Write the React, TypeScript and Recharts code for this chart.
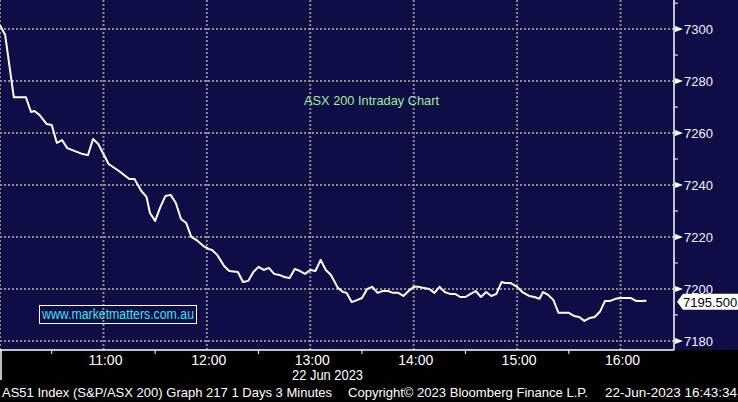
import { LineChart, Line, XAxis, YAxis, CartesianGrid, ReferenceLine } from 'recharts'

// minutes since midnight, 3 min bars (10:00 = 600)
const times = [
  600, 603, 608, 615, 618, 620, 623, 627, 630, 633,
  636, 639, 648, 651, 654, 657, 663, 669, 675, 678,
  682, 685, 687, 690, 693, 696, 699, 702, 705, 708,
  711, 714, 718, 721, 723, 726, 730, 733, 738, 741,
  744, 747, 750, 753, 756, 759, 762, 765, 768, 771,
  774, 777, 780, 783, 786, 789, 792, 796, 799, 801,
  804, 806, 810, 813, 816, 819, 822, 825, 828, 831,
  834, 837, 840, 843, 846, 849, 852, 855, 858, 861,
  864, 867, 870, 873, 876, 879, 882, 885, 888, 891,
  893, 896, 900, 903, 907, 910, 913, 915, 918, 921,
  924, 927, 930, 933, 936, 939, 942, 945, 948, 951,
  954, 957, 960, 963, 966, 969, 972, 975,
]

const prices = [
  7301.5, 7297.7, 7273.8, 7273.8, 7268.1, 7268.5, 7266.9, 7263.5, 7263.1, 7256.2,
  7257.3, 7254.2, 7251.9, 7251.5, 7257.7, 7255.8, 7248.1, 7245.4, 7242.3, 7242.3,
  7237.7, 7235.4, 7229.2, 7226.2, 7231.5, 7235.8, 7236.2, 7233.1, 7226.9, 7225.4,
  7220.0, 7218.8, 7216.5, 7215.4, 7215.0, 7213.1, 7208.8, 7206.9, 7206.5, 7202.7,
  7203.1, 7206.5, 7208.5, 7207.3, 7208.1, 7205.8, 7205.4, 7204.6, 7204.2, 7207.7,
  7206.9, 7205.8, 7207.3, 7206.9, 7211.2, 7207.3, 7205.4, 7200.4, 7198.8, 7198.5,
  7195.0, 7195.4, 7196.5, 7200.0, 7200.8, 7198.5, 7199.2, 7199.2, 7198.5, 7198.5,
  7197.3, 7199.2, 7200.8, 7200.8, 7200.4, 7200.0, 7198.5, 7200.8, 7198.8, 7198.1,
  7198.1, 7196.9, 7196.9, 7198.1, 7199.2, 7196.9, 7198.8, 7197.3, 7198.1, 7202.7,
  7202.3, 7202.3, 7200.8, 7198.8, 7197.3, 7196.9, 7196.2, 7198.8, 7197.7, 7195.8,
  7190.8, 7190.8, 7190.8, 7189.6, 7189.2, 7187.7, 7188.8, 7189.2, 7191.2, 7195.4,
  7195.4, 7196.2, 7196.5, 7196.5, 7196.5, 7195.4, 7195.4, 7195.5,
]

const yMajor = [7180, 7200, 7220, 7240, 7260, 7280, 7300]
const yTicks = [7180, 7190, 7200, 7210, 7220, 7230, 7240, 7250, 7260, 7270, 7280, 7290, 7300, 7310]
const xGrid = [600, 660, 720, 780, 840, 900, 960]
const xTicks = [630, 660, 690, 720, 750, 780, 810, 840, 870, 900, 930, 960]

const data = times.map((t, i) => ({ t, v: prices[i] }))
const last = prices[prices.length - 1]

const NAVY = '#0e0d46'
const FONT = '"Liberation Sans", Arial, sans-serif'

const fmtTime = (m: number) => `${Math.floor(m / 60)}:${String(m % 60).padStart(2, '0')}`

function YTick(props: any) {
  const { x, y, payload } = props
  if (payload.value % 20 !== 0) {
    return <line x1={x} x2={x + 4} y1={y} y2={y} stroke="#fff" strokeWidth={1} />
  }
  return (
    <g>
      <polygon points={`${x + 1},${y - 3} ${x + 9},${y} ${x + 1},${y + 3}`} fill="#fff" />
      <text x={x + 10} y={y + 5} fill="#f2f2ff" fontSize={13} fontFamily={FONT}>
        {payload.value}
      </text>
    </g>
  )
}

function XTick(props: any) {
  const { x, y, payload } = props
  if (payload.value % 60 !== 0) {
    return <line x1={x} x2={x} y1={y} y2={y + 4} stroke="#fff" strokeWidth={1} />
  }
  return (
    <text x={x + 2} y={y + 15} textAnchor="middle" fill="#fff" fontSize={14} fontFamily={FONT}>
      {fmtTime(payload.value)}
    </text>
  )
}

function LastTag(props: any) {
  const { viewBox } = props
  const left = viewBox.x + viewBox.width + 3
  const cy = viewBox.y + 1
  return (
    <g>
      <polygon
        points={`${left},${cy} ${left + 6},${cy - 8} 738,${cy - 8} 738,${cy + 8} ${left + 6},${cy + 8}`}
        fill="#fff"
      />
      <text x={left + 6} y={cy + 5} fill="#000" fontSize={13} fontFamily={FONT}>
        {last.toFixed(3)}
      </text>
    </g>
  )
}

export default function App() {
  return (
    <div style={{ position: 'absolute', left: 0, top: 0, width: 738, height: 402, background: '#000', overflow: 'hidden' }}>
      <div style={{ position: 'absolute', left: 0, top: 0, width: 738, height: 350, background: NAVY }} />
      <div style={{ position: 'absolute', left: 0, top: 0 }}>
        <LineChart width={738} height={402} data={data} margin={{ top: 0, right: 0, bottom: 0, left: 0 }}>
          <CartesianGrid
            stroke="#8c8c8c"
            strokeWidth={2}
            strokeDasharray="2 2"
            horizontalValues={yMajor}
            verticalValues={xGrid}
          />
          <XAxis
            dataKey="t"
            type="number"
            domain={[600, 991]}
            ticks={xTicks}
            interval={0}
            height={52}
            axisLine={{ stroke: '#fff', strokeWidth: 1.5 }}
            tickLine={false}
            tickSize={0}
            tickMargin={0}
            tick={<XTick />}
            allowDataOverflow
          />
          <YAxis
            orientation="right"
            type="number"
            domain={[7176.5, 7311.2]}
            ticks={yTicks}
            interval={0}
            width={64}
            axisLine={{ stroke: '#fff', strokeWidth: 1.5 }}
            tickLine={false}
            tickSize={0}
            tickMargin={0}
            tick={<YTick />}
            allowDataOverflow
          />
          <ReferenceLine y={last} stroke="none" label={<LastTag />} />
          <Line
            type="linear"
            dataKey="v"
            stroke="#fff"
            strokeWidth={2}
            strokeLinejoin="round"
            dot={false}
            activeDot={false}
            isAnimationActive={false}
          />
        </LineChart>
      </div>
      <svg width={738} height={402} style={{ position: 'absolute', left: 0, top: 0, pointerEvents: 'none' }}>
        <text x={304} y={105} fill="#9ef09a" fontSize={13} fontFamily={FONT} textLength={135} lengthAdjust="spacingAndGlyphs">
          ASX 200 Intraday Chart
        </text>
        <rect x={39.5} y={305.5} width={157} height={18} fill="none" stroke="#fff" strokeWidth={1} />
        <text x={42} y={319} fill="#3fe0ee" fontSize={14} fontFamily={FONT} textLength={152} lengthAdjust="spacingAndGlyphs">
          www.marketmatters.com.au
        </text>
        <line x1={1} x2={1} y1={350} y2={380} stroke="#fff" strokeWidth={1.5} />
        <text x={292} y={380} fill="#fff" fontSize={14} fontFamily={FONT} textLength={71} lengthAdjust="spacingAndGlyphs">
          22 Jun 2023
        </text>
        <text x={2} y={397} fill="#fff" fontSize={13} fontFamily={FONT} textLength={330} lengthAdjust="spacingAndGlyphs">
          AS51 Index (S&amp;P/ASX 200) Graph 217 1 Days 3 Minutes
        </text>
        <text x={348} y={397} fill="#fff" fontSize={13} fontFamily={FONT} textLength={240} lengthAdjust="spacingAndGlyphs">
          Copyright© 2023 Bloomberg Finance L.P.
        </text>
        <text x={605} y={397} fill="#fff" fontSize={13} fontFamily={FONT} textLength={132} lengthAdjust="spacingAndGlyphs">
          22-Jun-2023 16:43:34
        </text>
      </svg>
    </div>
  )
}
